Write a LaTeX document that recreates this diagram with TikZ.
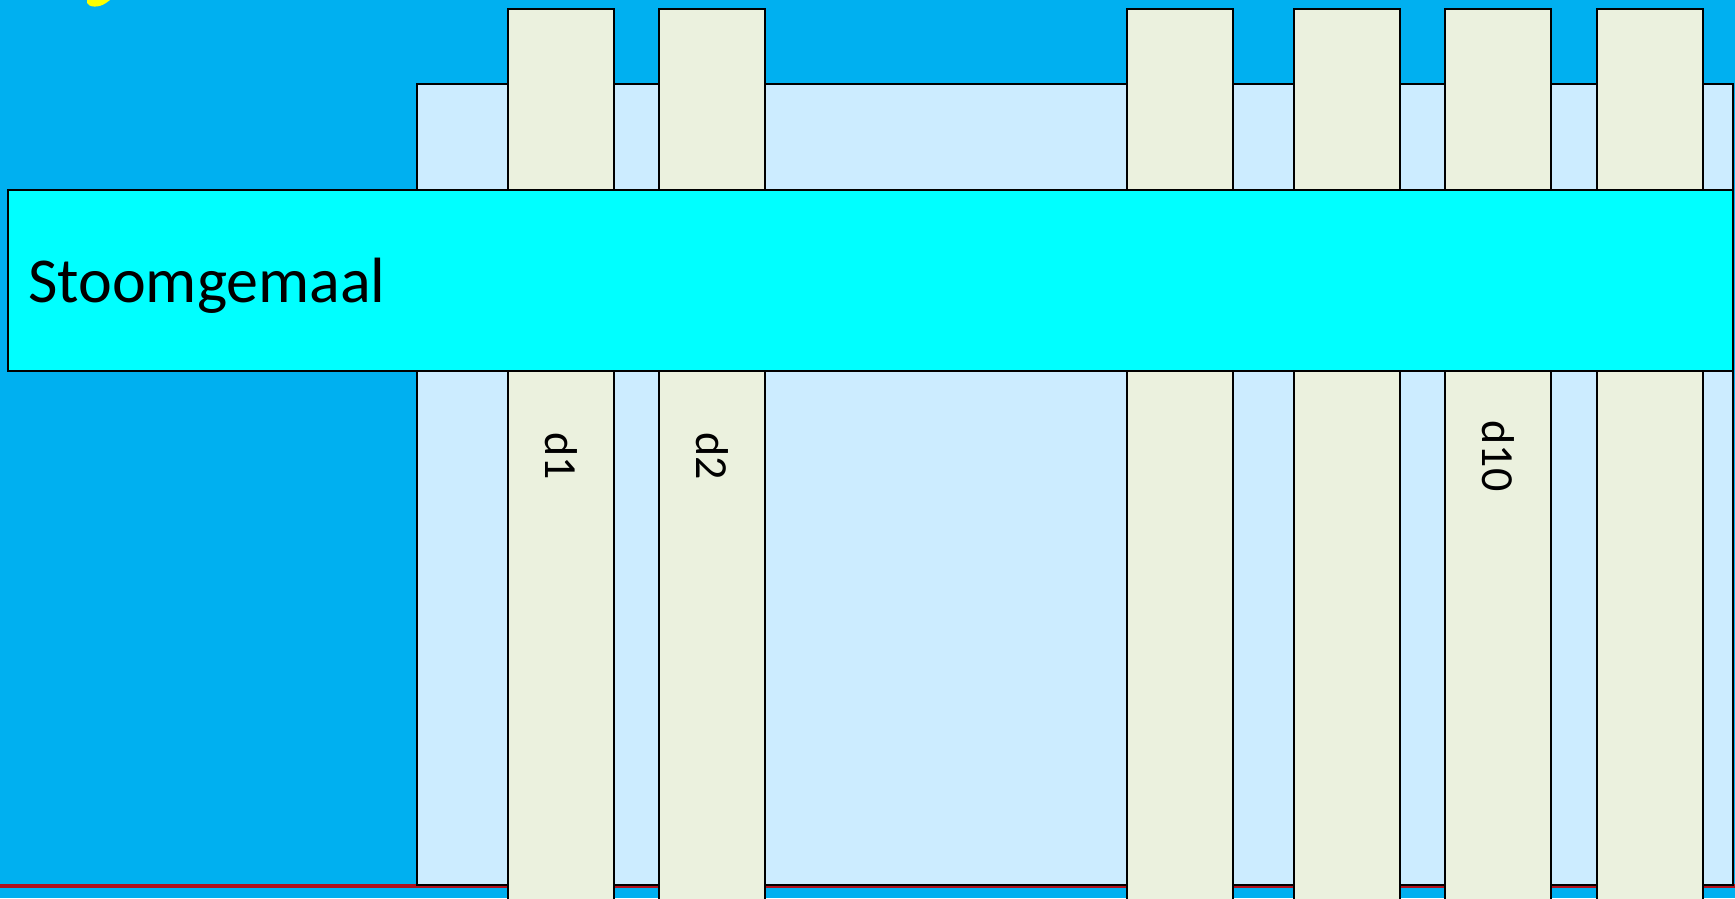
\documentclass[tikz,border=0pt]{standalone}
\usepackage{fontspec}
\setmainfont{Carlito}
\usetikzlibrary{positioning}
\definecolor{skyB}{HTML}{00B0F0}
\definecolor{paneL}{HTML}{CCECFF}
\definecolor{pillarC}{HTML}{EBF1DE}
\definecolor{bandC}{HTML}{00FFFF}
\definecolor{lineR}{HTML}{B0101E}
\definecolor{sunY}{HTML}{FFFF00}

\begin{document}
\begin{tikzpicture}[x=1pt, y=-1pt,
   box/.style={draw=black, line width=1.5pt, inner sep=0pt, outer sep=0pt, anchor=north west},
   pillar/.style={box, fill=pillarC, minimum width=106pt, minimum height=905pt},
   lbl/.style={rotate=-90, inner sep=0pt, font=\fontsize{46}{55}\selectfont}]
  \useasboundingbox (0,0) rectangle (1735,898);
  \clip (0,0) rectangle (1735,898);
  % background
  \fill[skyB] (0,0) rectangle (1735,898);
  \fill[sunY] (87,0) -- (87,3) .. controls (89,7.5) and (99,8) .. (106,3) -- (110,0) -- cycle;
  \coordinate (redL) at (0,886);
  \coordinate (redR) at (1735,886);
  \draw[lineR, line width=4pt] (redL) -- (redR);
  % panel behind the pillars
  \node[box, fill=paneL, minimum width=1316pt, minimum height=801pt] (panel) at (417,84) {};
  % pillars with labels
  \foreach \x/\lab [count=\i] in {508/d1, 659/d2, 1127/{}, 1294/{}, 1445/d10, 1597/{}}{%
    \node[pillar] (p\i) at (\x,9) {};
    \node[lbl] (l\i) at (\x+53,456) {\lab};
  }
  % band
  \node[box, fill=bandC, minimum width=1725pt, minimum height=181pt] (band) at (8,190) {};
  \node[anchor=base west, inner sep=0pt, font=\fontsize{64}{76}\selectfont] (title) at (28,302) {Stoomgemaal};
\end{tikzpicture}
\end{document}
